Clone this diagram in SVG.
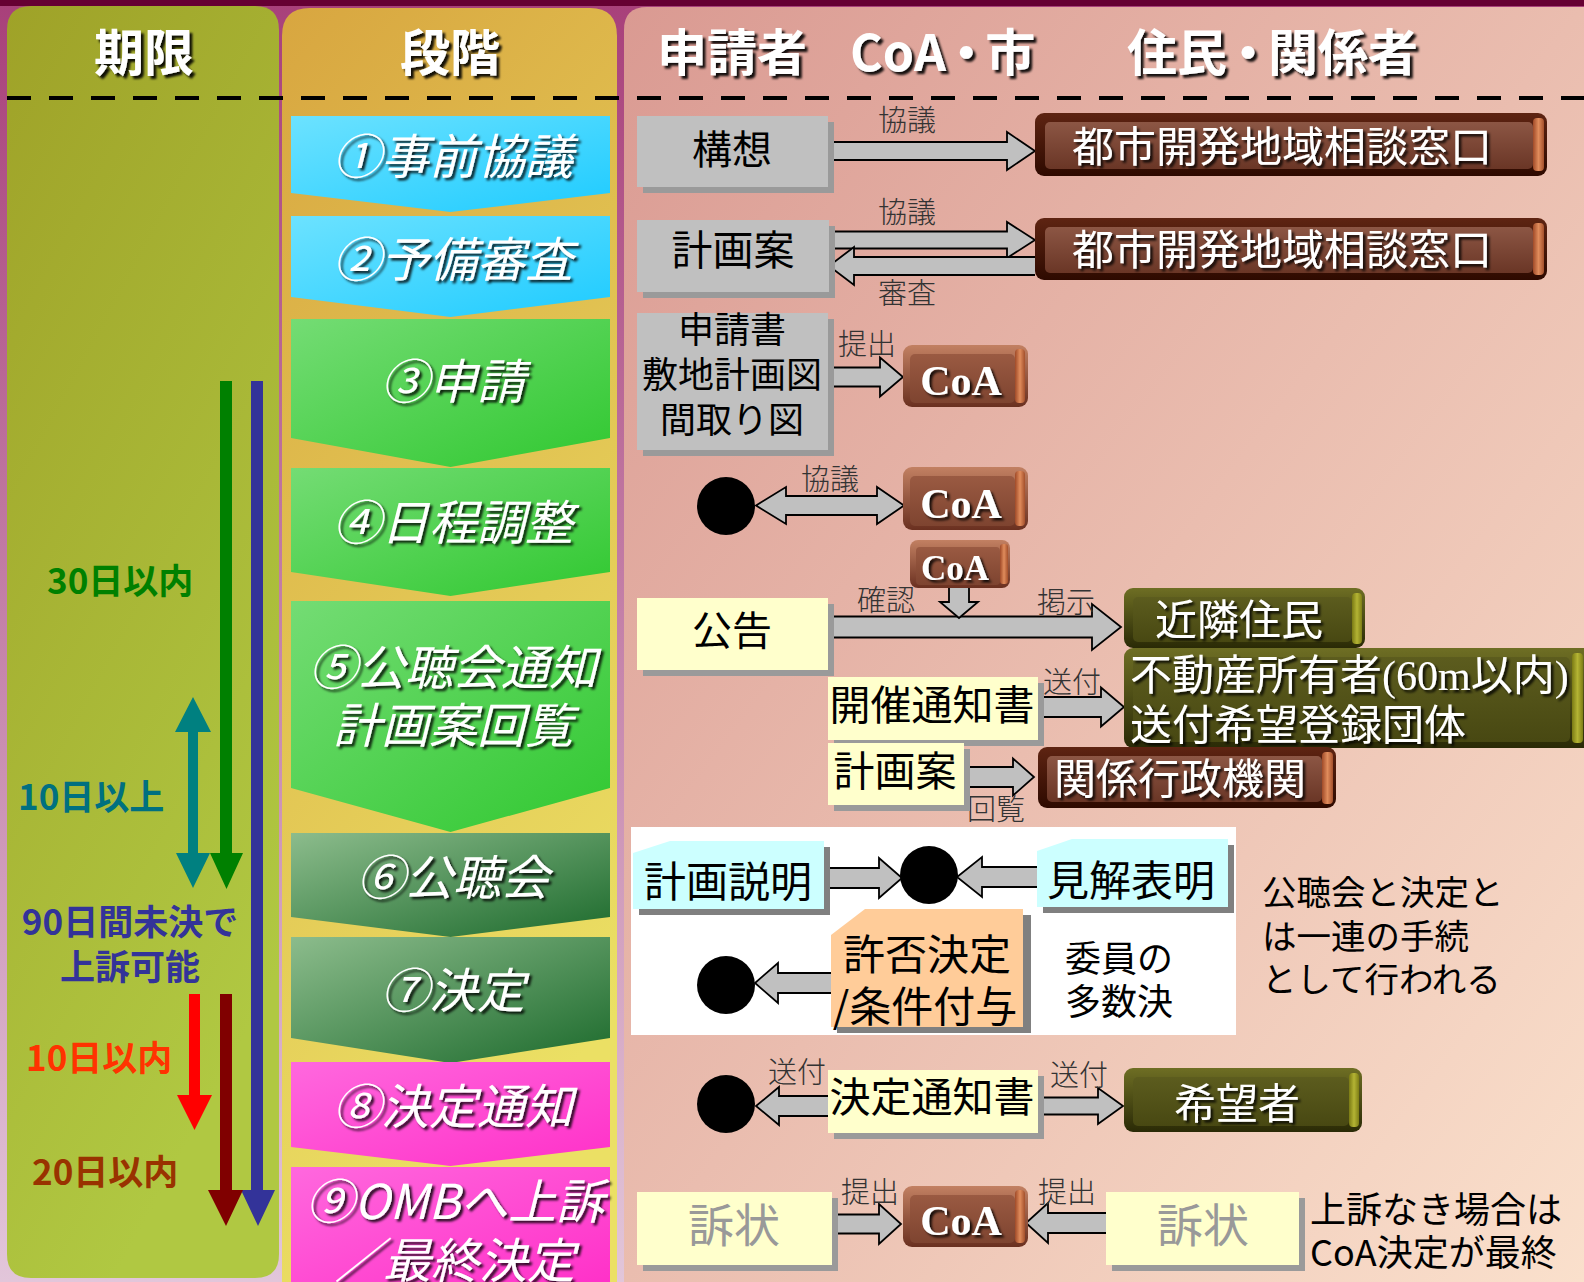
<svg xmlns="http://www.w3.org/2000/svg" width="1584" height="1282" viewBox="0 0 1584 1282">
<defs>
<style>
.hdr{font-family:"Noto Sans CJK JP","Noto Sans",sans-serif;font-weight:700;font-size:50px;fill:#fff;filter:url(#ds3)}
.ph{font-family:"Noto Sans CJK JP",sans-serif;font-size:48px;font-style:italic;fill:#fff;text-anchor:middle;filter:url(#ds)}
.lim{font-family:"Noto Sans CJK JP",sans-serif;font-weight:700;font-size:35px}
.lbl{font-family:"Noto Sans CJK JP",sans-serif;font-size:29px;fill:#333;font-weight:300}
.bt{font-family:"Noto Sans CJK JP",sans-serif;font-size:40px;fill:#000;text-anchor:middle}
.wt{font-family:"Liberation Serif","Noto Sans CJK JP",serif;font-size:42px;fill:#fff;filter:url(#ds)}
.mid{text-anchor:middle}
.coa{font-family:"Liberation Serif",serif;font-weight:700;font-size:42px;fill:#fff;text-anchor:middle;filter:url(#ds)}
.ar{fill:#c0c0c0;stroke:#000;stroke-width:1.8;stroke-linejoin:miter}
.gray{fill:#c0c0c0}
.yel{fill:#ffffcc}
.shd{fill:#9a9a9a}
.shd2{fill:#808080}
.dot{fill:#000}
</style>
<filter id="ds" x="-10%" y="-20%" width="130%" height="150%"><feDropShadow dx="2.5" dy="2.5" stdDeviation="0.8" flood-color="#000" flood-opacity="0.85"/></filter>
<filter id="ds3" x="-10%" y="-20%" width="130%" height="150%"><feDropShadow dx="3" dy="3" stdDeviation="1" flood-color="#000" flood-opacity="0.9"/></filter>
<linearGradient id="bg" x1="0" y1="0" x2="0" y2="1"><stop offset="0" stop-color="#a8407a"/><stop offset="1" stop-color="#e2c6da"/></linearGradient>
<linearGradient id="colA" x1="0" y1="0" x2="0.4" y2="1"><stop offset="0" stop-color="#9fa228"/><stop offset="1" stop-color="#b0c842"/></linearGradient>
<linearGradient id="colB" x1="0" y1="0" x2="0.3" y2="1"><stop offset="0" stop-color="#d8a640"/><stop offset="1" stop-color="#ebe064"/></linearGradient>
<linearGradient id="colC" x1="0" y1="0" x2="1" y2="1"><stop offset="0" stop-color="#da9a92"/><stop offset="1" stop-color="#fae0cc"/></linearGradient>
<linearGradient id="pCyan" x1="0" y1="0" x2="1" y2="1"><stop offset="0" stop-color="#6ce2ff"/><stop offset="1" stop-color="#1ecbff"/></linearGradient>
<linearGradient id="pGreen" x1="0" y1="0" x2="1" y2="1"><stop offset="0" stop-color="#74dc74"/><stop offset="1" stop-color="#30c830"/></linearGradient>
<linearGradient id="pDark" x1="0" y1="0" x2="1" y2="1"><stop offset="0" stop-color="#8cbc8c"/><stop offset="1" stop-color="#1c6a2c"/></linearGradient>
<linearGradient id="pMag" x1="0" y1="0" x2="1" y2="1"><stop offset="0" stop-color="#ff68de"/><stop offset="1" stop-color="#ff30c8"/></linearGradient>
<linearGradient id="bRim" x1="0" y1="0" x2="0" y2="1"><stop offset="0" stop-color="#5e2412"/><stop offset="1" stop-color="#2e0a00"/></linearGradient>
<linearGradient id="bFace" x1="0" y1="0" x2="0" y2="1"><stop offset="0" stop-color="#8c5644"/><stop offset="1" stop-color="#6a3626"/></linearGradient>
<linearGradient id="bSide" x1="0" y1="0" x2="1" y2="0"><stop offset="0" stop-color="#a04a28"/><stop offset="0.5" stop-color="#e08c5c"/><stop offset="1" stop-color="#a4502c"/></linearGradient>
<linearGradient id="cRim" x1="0" y1="0" x2="0" y2="1"><stop offset="0" stop-color="#c28062"/><stop offset="1" stop-color="#6a3020"/></linearGradient>
<linearGradient id="cFace" x1="0" y1="0" x2="0" y2="1"><stop offset="0" stop-color="#9a5a42"/><stop offset="1" stop-color="#7e4430"/></linearGradient>
<linearGradient id="oRim" x1="0" y1="0" x2="0" y2="1"><stop offset="0" stop-color="#6e6e24"/><stop offset="1" stop-color="#2a2a06"/></linearGradient>
<linearGradient id="oFace" x1="0" y1="0" x2="0" y2="1"><stop offset="0" stop-color="#5c5c1e"/><stop offset="1" stop-color="#484812"/></linearGradient>
<linearGradient id="oSide" x1="0" y1="0" x2="1" y2="0"><stop offset="0" stop-color="#7a7a14"/><stop offset="0.5" stop-color="#b4b434"/><stop offset="1" stop-color="#7e7e16"/></linearGradient>
</defs>

<g id="background">
<rect width="1584" height="1282" fill="url(#bg)"/>
<rect width="1584" height="6" fill="#660033"/>
<path d="M7,30 Q7,6 31,6 H255 Q279,6 279,30 V1254 Q279,1278 255,1278 H31 Q7,1278 7,1254 Z" fill="url(#colA)"/>
<path d="M282,36 Q282,8 310,8 H590 Q617,8 617,36 V1282 H282 Z" fill="url(#colB)"/>
<path d="M624,30 Q624,7 647,7 H1584 V1282 H624 Z" fill="url(#colC)"/>
<line x1="7" y1="98" x2="1584" y2="98" stroke="#000" stroke-width="4" stroke-dasharray="24 18"/>
<rect x="631" y="827" width="605" height="208" fill="#fff"/>
</g>

<g id="headers">
<text class="hdr mid" x="144" y="71">期限</text>
<text class="hdr mid" x="450" y="71">段階</text>
<text class="hdr" x="657" y="71">申請者</text>
<text class="hdr" x="850" y="71">CoA<tspan dx="-5">・</tspan><tspan dx="-6">市</tspan></text>
<text class="hdr" x="1127" y="71">住民<tspan dx="-4">・</tspan><tspan dx="-5">関係者</tspan></text>
</g>

<g id="phases">
<g id="phase-1"><polygon points="291,116 610,116 610,193 450.5,212 291,193" fill="url(#pCyan)"/><text class="ph" x="453" y="174">①事前協議</text></g>
<g id="phase-2"><polygon points="291,216 610,216 610,297 450.5,317 291,297" fill="url(#pCyan)"/><text class="ph" x="453" y="277">②予備審査</text></g>
<g id="phase-3"><polygon points="291,319 610,319 610,438 450.5,467 291,438" fill="url(#pGreen)"/><text class="ph" x="453" y="399">③申請</text></g>
<g id="phase-4"><polygon points="291,468 610,468 610,572 450.5,596 291,572" fill="url(#pGreen)"/><text class="ph" x="453" y="540">④日程調整</text></g>
<g id="phase-5"><polygon points="291,601 610,601 610,788 450.5,832 291,788" fill="url(#pGreen)"/><text class="ph" x="453" y="685">⑤公聴会通知</text><text class="ph" x="453" y="743">計画案回覧</text></g>
<g id="phase-6"><polygon points="291,833 610,833 610,917 450.5,937 291,917" fill="url(#pDark)"/><text class="ph" x="453" y="895">⑥公聴会</text></g>
<g id="phase-7"><polygon points="291,937 610,937 610,1038 450.5,1063 291,1038" fill="url(#pDark)"/><text class="ph" x="453" y="1008">⑦決定</text></g>
<g id="phase-8"><polygon points="291,1062 610,1062 610,1147 450.5,1166 291,1147" fill="url(#pMag)"/><text class="ph" x="453" y="1124">⑧決定通知</text></g>
<g id="phase-9"><rect x="291" y="1167" width="319" height="120" fill="url(#pMag)"/><text class="ph" x="455" y="1219">⑨OMBへ上訴</text><text class="ph" x="455" y="1278">／最終決定</text></g>
</g>

<g id="deadlines">
<path d="M220,381 H232 V853 H243 L226.5,889 L210,853 H220 Z" fill="#008000"/>
<path d="M251,381 H263 V1190 H275 L258,1226 L241,1190 H251 Z" fill="#333399"/>
<path d="M193,697 L211,732 H198 V853 H210 L193,888 L176,853 H188 V732 H175 Z" fill="#008080"/>
<path d="M189,994 H200 V1095 H212 L194.5,1130 L177,1095 H189 Z" fill="#ff0000"/>
<path d="M220,994 H232 V1190 H243 L226,1226 L208,1190 H220 Z" fill="#800000"/>
<text class="lim" x="47" y="594" fill="#008000">30日以内</text>
<text class="lim" x="18" y="810" fill="#007080">10日以上</text>
<text class="lim mid" x="130" y="935" fill="#333399">90日間未決で</text>
<text class="lim mid" x="130" y="980" fill="#333399">上訴可能</text>
<text class="lim" x="26" y="1071" fill="#ff3300">10日以内</text>
<text class="lim" x="32" y="1185" fill="#993300">20日以内</text>
</g>

<g id="connectors">
<path class="ar" d="M829,142 H1007 V132 L1035,151 L1007,170 V160 H829"/>
<path class="ar" d="M829,231.5 H1007 V222 L1035,240 L1007,258 V248.5 H829"/>
<path class="ar" d="M1035,257 H854 V247 L829,266 L854,285 V275 H1035"/>
<path class="ar" d="M828,367.5 H880 V357.5 L903,377 L880,396.5 V386.5 H828"/>
<path class="ar" d="M756,505.5 L786,487 V496 H877 V487 L904,505.5 L877,524 V515 H786 V524 Z"/>
<path class="ar" d="M828,616.5 H1092 V604 L1121,627 L1092,650 V637.5 H828"/>
<path class="ar" d="M949,588 V602 H940 L959,618 L978,602 H969 V588"/>
<path class="ar" d="M1038,697 H1101 V687.5 L1124,707 L1101,726.5 V717 H1038"/>
<path class="ar" d="M964,767 H1013 V758.5 L1034,777 L1013,795.5 V787 H964"/>
<path class="ar" d="M830,868 H879 V858 L902,878 L879,898 V888 H830"/>
<path class="ar" d="M1037,867 H982 V857 L957,877 L982,897 V887 H1037"/>
<path class="ar" d="M831,973 H778 V963 L755,983 L778,1003 V993 H831"/>
<path class="ar" d="M828,1096 H779 V1087 L756,1106 L779,1125 V1116 H828"/>
<path class="ar" d="M1038,1097.5 H1098 V1088 L1123,1106 L1098,1124 V1114.5 H1038"/>
<path class="ar" d="M832,1214.5 H879 V1204 L901,1224 L879,1244 V1233.5 H832"/>
<path class="ar" d="M1106,1213 H1048 V1203 L1026,1223 L1048,1243 V1233 H1106"/>
<text class="lbl" x="878" y="131">協議</text>
<text class="lbl" x="878" y="223">協議</text>
<text class="lbl" x="878" y="304">審査</text>
<text class="lbl" x="838" y="355">提出</text>
<text class="lbl" x="801" y="490">協議</text>
<text class="lbl" x="857" y="611">確認</text>
<text class="lbl" x="1037" y="613">掲示</text>
<text class="lbl" x="1043" y="693">送付</text>
<text class="lbl" x="967" y="820">回覧</text>
<text class="lbl" x="768" y="1083">送付</text>
<text class="lbl" x="1050" y="1086">送付</text>
<text class="lbl" x="841" y="1203">提出</text>
<text class="lbl" x="1038" y="1203">提出</text>
</g>

<g id="nodes">
<g id="n-kousou"><rect class="shd" x="643" y="122" width="191" height="71"/><rect class="gray" x="637" y="116" width="191" height="71"/><text class="bt" x="732" y="164">構想</text></g>
<g id="n-keikakuan1"><rect class="shd" x="643" y="226" width="192" height="72"/><rect class="gray" x="637" y="220" width="192" height="72"/><text class="bt" x="733" y="265" style="font-size:41px">計画案</text></g>
<g id="n-shinseisho"><rect class="shd" x="643" y="319" width="191" height="137"/><rect class="gray" x="637" y="313" width="191" height="137"/><text class="bt" x="732" y="343" style="font-size:36px">申請書</text><text class="bt" x="732" y="388" style="font-size:36px">敷地計画図</text><text class="bt" x="732" y="433" style="font-size:36px">間取り図</text></g>

<g id="n-toshi1"><rect x="1035" y="113" width="512" height="63" rx="9" fill="url(#bRim)"/><rect x="1045" y="122" width="488" height="47" rx="5" fill="url(#bFace)"/><rect x="1533" y="118" width="11" height="53" rx="4" fill="url(#bSide)"/><text class="wt mid" x="1282" y="162">都市開発地域相談窓口</text></g>
<g id="n-toshi2"><rect x="1035" y="218" width="512" height="62" rx="9" fill="url(#bRim)"/><rect x="1045" y="227" width="488" height="46" rx="5" fill="url(#bFace)"/><rect x="1533" y="223" width="11" height="52" rx="4" fill="url(#bSide)"/><text class="wt mid" x="1282" y="265">都市開発地域相談窓口</text></g>

<g id="n-coa1"><rect x="903" y="345" width="125" height="62" rx="9" fill="url(#cRim)"/><rect x="910" y="354" width="105" height="49" rx="5" fill="url(#cFace)"/><rect x="1015" y="349" width="10" height="54" rx="4" fill="url(#bSide)"/><text class="coa" x="961" y="395">CoA</text></g>
<g id="n-dot1"><circle class="dot" cx="726" cy="506" r="29"/></g>
<g id="n-coa2"><rect x="903" y="467" width="125" height="63" rx="9" fill="url(#cRim)"/><rect x="910" y="476" width="105" height="50" rx="5" fill="url(#cFace)"/><rect x="1015" y="471" width="10" height="55" rx="4" fill="url(#bSide)"/><text class="coa" x="961" y="518">CoA</text></g>
<g id="n-coa3"><rect x="910" y="540" width="100" height="48" rx="8" fill="url(#cRim)"/><rect x="916" y="547" width="84" height="38" rx="4" fill="url(#cFace)"/><rect x="1000" y="544" width="8" height="40" rx="3" fill="url(#bSide)"/><text class="coa" x="955" y="580" style="font-size:35px">CoA</text></g>

<g id="n-koukoku"><rect class="shd" x="643" y="604" width="191" height="72"/><rect class="yel" x="637" y="598" width="191" height="72"/><text class="bt" x="732" y="645">公告</text></g>
<g id="n-kinrin"><rect x="1124" y="588" width="241" height="60" rx="9" fill="url(#oRim)"/><rect x="1133" y="597" width="219" height="45" rx="5" fill="url(#oFace)"/><rect x="1352" y="593" width="10" height="51" rx="4" fill="url(#oSide)"/><text class="wt mid" x="1239" y="635">近隣住民</text></g>
<g id="n-fudousan"><rect x="1124" y="648" width="470" height="100" rx="9" fill="url(#oRim)"/><rect x="1133" y="657" width="437" height="85" rx="5" fill="url(#oFace)"/><rect x="1572" y="653" width="11" height="90" rx="4" fill="url(#oSide)"/><text class="wt" x="1130" y="690">不動産所有者(60m以内)</text><text class="wt" x="1130" y="740">送付希望登録団体</text></g>
<g id="n-kaisai"><rect class="shd" x="834" y="683" width="210" height="63"/><rect class="yel" x="828" y="677" width="210" height="63"/><text class="bt" x="932" y="720" style="font-size:41px">開催通知書</text></g>
<g id="n-keikakuan2"><rect class="shd" x="834" y="749" width="136" height="62"/><rect class="yel" x="828" y="743" width="136" height="62"/><text class="bt" x="895" y="786" style="font-size:41px">計画案</text></g>
<g id="n-kankei"><rect x="1038" y="747" width="298" height="61" rx="9" fill="url(#bRim)"/><rect x="1047" y="756" width="275" height="46" rx="5" fill="url(#bFace)"/><rect x="1322" y="752" width="11" height="52" rx="4" fill="url(#bSide)"/><text class="wt mid" x="1180" y="794">関係行政機関</text></g>

<g id="n-setsumei"><path class="shd2" d="M676,847 H830 V915 H639 V859 Z"/><path d="M670,841 H824 V909 H633 V853 Z" fill="#ccffff"/><text class="bt" x="728" y="897" style="font-size:42px">計画説明</text></g>
<g id="n-dot2"><circle class="dot" cx="929" cy="875" r="29"/></g>
<g id="n-kenkai"><path class="shd2" d="M1078,845 H1234 V913 H1043 V857 Z"/><path d="M1072,839 H1228 V907 H1037 V851 Z" fill="#ccffff"/><text class="bt" x="1131" y="896" style="font-size:42px">見解表明</text></g>
<g id="n-kyohi"><path class="shd2" d="M871,915 H1031 V1033 H837 V941 Z"/><path d="M865,909 H1023 V1027 H831 V935 Z" fill="#ffcc99"/><text class="bt" x="927" y="970" style="font-size:42px">許否決定</text><text class="bt" x="925" y="1022" style="font-size:42px">/条件付与</text></g>
<g id="n-dot3"><circle class="dot" cx="726" cy="985" r="29"/></g>
<g id="n-iin"><text class="bt" x="1119" y="972" style="font-size:36px">委員の</text><text class="bt" x="1119" y="1015" style="font-size:36px">多数決</text></g>
<g id="n-note1"><text class="bt" x="1262" y="905" style="font-size:34.5px;text-anchor:start">公聴会と決定と</text><text class="bt" x="1262" y="949" style="font-size:34.5px;text-anchor:start">は一連の手続</text><text class="bt" x="1262" y="992" style="font-size:34.5px;text-anchor:start">として行われる</text></g>

<g id="n-dot4"><circle class="dot" cx="726" cy="1104" r="29"/></g>
<g id="n-kettei"><rect class="shd" x="834" y="1076" width="210" height="63"/><rect class="yel" x="828" y="1070" width="210" height="63"/><text class="bt" x="932" y="1112" style="font-size:41px">決定通知書</text></g>
<g id="n-kibousha"><rect x="1124" y="1068" width="238" height="64" rx="9" fill="url(#oRim)"/><rect x="1133" y="1077" width="216" height="49" rx="5" fill="url(#oFace)"/><rect x="1349" y="1073" width="10" height="54" rx="4" fill="url(#oSide)"/><text class="wt mid" x="1237" y="1119">希望者</text></g>

<g id="n-sojo1"><rect class="shd" x="643" y="1198" width="195" height="73"/><rect class="yel" x="637" y="1192" width="195" height="73"/><text class="bt" x="734" y="1242" style="font-size:46px;fill:#999">訴状</text></g>
<g id="n-coa4"><rect x="903" y="1186" width="125" height="61" rx="9" fill="url(#cRim)"/><rect x="910" y="1195" width="105" height="48" rx="5" fill="url(#cFace)"/><rect x="1015" y="1190" width="10" height="53" rx="4" fill="url(#bSide)"/><text class="coa" x="961" y="1235">CoA</text></g>
<g id="n-sojo2"><rect class="shd" x="1112" y="1198" width="193" height="73"/><rect class="yel" x="1106" y="1192" width="193" height="73"/><text class="bt" x="1203" y="1242" style="font-size:46px;fill:#999">訴状</text></g>
<g id="n-note2"><text class="bt" x="1310" y="1223" style="font-size:36px;text-anchor:start">上訴なき場合は</text><text class="bt" x="1310" y="1266" style="font-size:36px;text-anchor:start">CoA決定が最終</text></g>
</g>
</svg>
